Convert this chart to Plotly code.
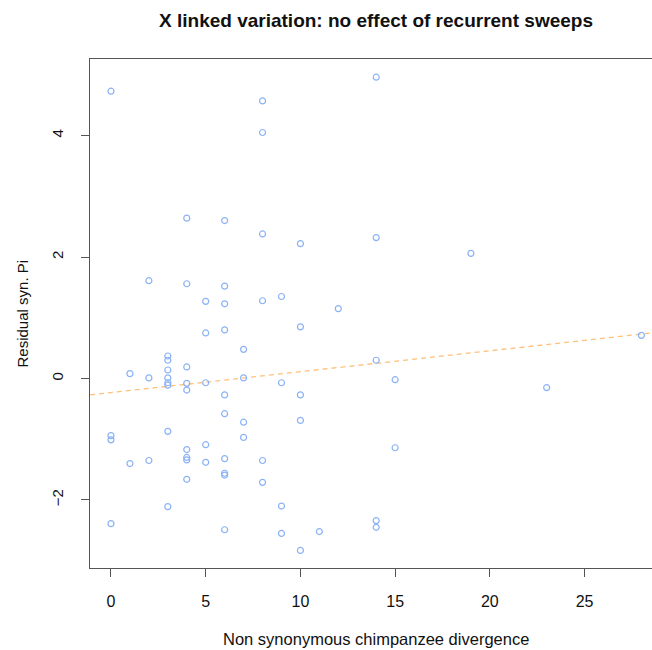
import plotly.graph_objects as go

# Data
nonsyn_div = [0, 0, 0, 0,
              1, 1,
              2, 2, 2,
              3, 3, 3, 3, 3, 3, 3, 3,
              4, 4, 4, 4, 4, 4, 4, 4, 4,
              5, 5, 5, 5, 5,
              6, 6, 6, 6, 6, 6, 6, 6, 6, 6,
              7, 7, 7, 7,
              8, 8, 8, 8, 8, 8,
              9, 9, 9, 9,
              10, 10, 10, 10, 10,
              11,
              12,
              14, 14, 14, 14, 14,
              15, 15,
              19,
              23,
              28]
resid_pi = [4.73, -0.94, -1.01, -2.39,
            0.08, -1.40,
            1.61, 0.01, -1.35,
            0.37, 0.30, 0.14, 0.01, -0.07, -0.11, -0.87, -2.11,
            2.64, 1.56, 0.19, -0.08, -0.19, -1.17, -1.30, -1.34, -1.66,
            1.27, 0.75, -0.07, -1.09, -1.38,
            2.60, 1.52, 1.23, 0.80, -0.27, -0.58, -1.32, -1.56, -1.59, -2.49,
            0.48, 0.01, -0.72, -0.97,
            4.57, 4.05, 2.38, 1.28, -1.35, -1.71,
            1.35, -0.07, -2.10, -2.55,
            2.22, 0.85, -0.27, -0.69, -2.83,
            -2.52,
            1.15,
            4.96, 2.32, 0.30, -2.34, -2.45,
            -0.02, -1.14,
            2.06,
            -0.15,
            0.71]

fit_intercept = -0.232
fit_slope = 0.0344

x_ticks = [0, 5, 10, 15, 20, 25]
y_ticks = [-2, 0, 2, 4]

title_text = "X linked variation: no effect of recurrent sweeps"
x_label = "Non synonymous chimpanzee divergence"
y_label = "Residual syn. Pi"

# Axis ranges (R style 4% padding; the right side is cropped in the reference)
x_range = [-1.108, 28.56]
y_range = [-3.12, 5.26]

FONT = "Liberation Sans, Arial, Helvetica, sans-serif"
W, H = 652, 650
ML, MR, MT, MB = 90, 0, 59, 82

fig = go.Figure()

line_x = [x_range[0], x_range[1]]
line_y = [fit_intercept + fit_slope * v for v in line_x]
fig.add_trace(go.Scatter(
    x=line_x, y=line_y, mode="lines",
    line=dict(color="#FFC07A", width=1.3, dash="5px,4px"),
    hoverinfo="skip", showlegend=False,
))

fig.add_trace(go.Scatter(
    x=nonsyn_div, y=resid_pi, mode="markers",
    marker=dict(symbol="circle-open", size=6, color="#8AB2F5",
                line=dict(width=1.2, color="#8AB2F5")),
    showlegend=False,
))

axis_common = dict(
    showgrid=False, zeroline=False, showline=True,
    linecolor="#555555", linewidth=1,
    ticks="outside", ticklen=8, tickwidth=1, tickcolor="#555555",
)

fig.update_xaxes(range=x_range, tickvals=x_ticks, ticktext=[str(t) for t in x_ticks],
                 mirror=True, ticklabelstandoff=11,
                 tickfont=dict(family=FONT, size=16, color="#111111"), **axis_common)
fig.update_yaxes(range=y_range, tickvals=y_ticks, ticktext=[str(t).replace("-", "\u2212") for t in y_ticks],
                 tickangle=-90, ticklabelstandoff=12,
                 tickfont=dict(family=FONT, size=15, color="#111111"), **axis_common)

plot_w = W - ML - MR
plot_h = H - MT - MB

fig.update_layout(
    width=W, height=H,
    margin=dict(l=ML, r=MR, t=MT, b=MB, pad=0),
    plot_bgcolor="white", paper_bgcolor="white",
    font=dict(family=FONT, size=14, color="#111111"),
    title=dict(text="<b>" + title_text + "</b>", xref="container", yref="container",
               x=376 / W, y=1 - 20 / H, xanchor="center", yanchor="middle",
               font=dict(family=FONT, size=19, color="#111111")),
    annotations=[
        dict(text=x_label, xref="paper", yref="paper",
             x=(376 - ML) / plot_w, y=-(639 - (MT + plot_h)) / plot_h,
             xanchor="center", yanchor="middle", showarrow=False,
             font=dict(family=FONT, size=16.5, color="#111111")),
        dict(text=y_label, xref="paper", yref="paper",
             x=-(ML - 22) / plot_w, y=0.5, textangle=-90,
             xanchor="center", yanchor="middle", showarrow=False,
             font=dict(family=FONT, size=15, color="#111111")),
    ],
)

fig.write_html("out.html", config={"displayModeBar": False},
               post_script="document.body.style.margin='0';document.body.style.overflow='hidden';")
